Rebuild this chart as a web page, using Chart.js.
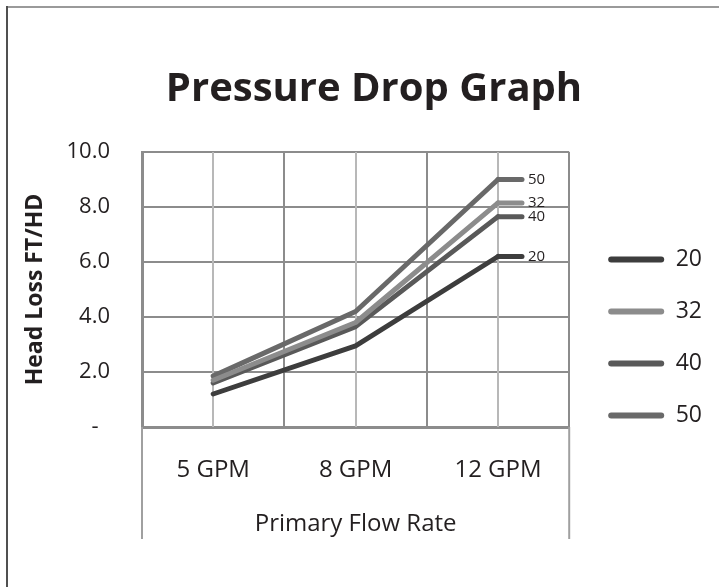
<!DOCTYPE html>
<html>
<head>
<meta charset="utf-8">
<script src="https://cdn.jsdelivr.net/npm/chart.js@4.4.1/dist/chart.umd.min.js"></script>
<style>
  html, body { margin: 0; padding: 0; background: #fff; }
  #wrap { position: relative; width: 719px; height: 587px; }
</style>
</head>
<body>
<div id="wrap"><canvas id="myChart"></canvas></div>
<script>
// categories (x axis) and series
const flowRates = ['5 GPM', '8 GPM', '12 GPM'];
const seriesNames = ['20', '32', '40', '50'];
const loss20 = [1.2, 2.95, 6.2];
const loss32 = [1.7, 3.8, 8.15];
const loss40 = [1.6, 3.65, 7.65];
const loss50 = [1.85, 4.2, 9.0];
const yTicks = [0, 2, 4, 6, 8, 10];

const colors = ['#3d3d3d', '#8c8c8c', '#595959', '#696969'];
const seriesValues = [loss20, loss32, loss40, loss50];

Chart.defaults.font.family = "'Open Sans', sans-serif";
Chart.defaults.color = '#231f20';

// extra drawing: light centre grid lines, axis box below the plot, frame, end labels
const extras = {
    id: 'extras',
    afterLayout(chart) {
        // legend sits lower and a bit right, title is off-centre like the original
        const lg = chart.legend;
        lg.top += 44; lg.bottom += 44;
        lg.left += 10; lg.right += 10;
        const t = chart.titleBlock;
        t.left += 23; t.right += 23;
    },
    beforeDatasetsDraw(chart) {
        const {ctx, chartArea: a, scales: {x}} = chart;
        ctx.save();
        ctx.strokeStyle = '#b8b8b8';
        ctx.lineWidth = 2;
        flowRates.forEach((c, i) => {
            const px = Math.round(x.getPixelForValue(i));
            ctx.beginPath();
            ctx.moveTo(px, a.top);
            ctx.lineTo(px, a.bottom);
            ctx.stroke();
        });
        // category box lines under the axis
        ctx.strokeStyle = '#a0a0a0';
        [a.left, a.right].forEach(px => {
            ctx.beginPath();
            ctx.moveTo(px, a.bottom);
            ctx.lineTo(px, a.bottom + 112);
            ctx.stroke();
        });
        ctx.restore();
    },
    afterDatasetsDraw(chart) {
        const {ctx} = chart;
        ctx.save();
        chart.data.datasets.forEach((ds, i) => {
            const meta = chart.getDatasetMeta(i);
            const pt = meta.data[meta.data.length - 1];
            ctx.strokeStyle = ds.borderColor;
            ctx.lineWidth = 5;
            ctx.lineCap = 'round';
            ctx.beginPath();
            ctx.moveTo(pt.x, pt.y);
            ctx.lineTo(pt.x + 24, pt.y);
            ctx.stroke();
            ctx.fillStyle = '#231f20';
            ctx.font = "15px 'Open Sans', sans-serif";
            ctx.textBaseline = 'middle';
            ctx.fillText(ds.label, pt.x + 30, pt.y);
        });
        ctx.restore();
    },
    afterDraw(chart) {
        const {ctx, width, height} = chart;
        ctx.save();
        ctx.lineWidth = 2;
        ctx.strokeStyle = '#9a9a9a';
        ctx.beginPath();
        ctx.moveTo(6, 7);
        ctx.lineTo(width, 7);
        ctx.stroke();
        ctx.strokeStyle = '#505050';
        ctx.beginPath();
        ctx.moveTo(7, 6);
        ctx.lineTo(7, height);
        ctx.stroke();
        ctx.restore();
    }
};

const ctx = document.getElementById('myChart').getContext('2d');
window.myChart = new Chart(ctx, {
    type: 'line',
    data: {
        labels: flowRates,
        datasets: seriesNames.map((name, i) => ({
            label: name,
            data: seriesValues[i],
            borderColor: colors[i],
            backgroundColor: colors[i],
            borderWidth: 5,
            borderCapStyle: 'round',
            borderJoinStyle: 'round',
            pointRadius: 0,
            tension: 0,
            fill: false
        }))
    },
    options: {
        responsive: true,
        maintainAspectRatio: false,
        animation: false,
        layout: { padding: { left: 0, top: 0, right: 17, bottom: 0 } },
        plugins: {
            title: {
                display: true,
                text: 'Pressure Drop Graph',
                font: { size: 40, weight: 'bold' },
                color: '#231f20',
                padding: { top: 66, bottom: 38 }
            },
            legend: {
                position: 'right',
                align: 'center',
                labels: {
                    boxWidth: 56,
                    boxHeight: 6,
                    useBorderRadius: true,
                    borderRadius: 3,
                    padding: 29,
                    font: { size: 23 },
                    color: '#231f20',
                    generateLabels: chart => Chart.defaults.plugins.legend.labels.generateLabels(chart)
                        .map(l => Object.assign(l, { lineWidth: 0 }))
                }
            },
            tooltip: { enabled: false }
        },
        scales: {
            x: {
                type: 'category',
                offset: true,
                grid: { offset: true, color: '#8c8c8c', lineWidth: 2, drawTicks: false },
                border: { color: '#8c8c8c', width: 3 },
                ticks: { font: { size: 24 }, color: '#231f20', padding: 29 },
                title: {
                    display: true,
                    text: 'Primary Flow Rate',
                    font: { size: 24 },
                    color: '#231f20',
                    padding: { top: 0, bottom: 48 }
                },
                afterFit: scale => { scale.height = 160; }
            },
            y: {
                min: 0,
                max: 10,
                afterBuildTicks: scale => { scale.ticks = yTicks.map(v => ({ value: v })); },
                grid: { color: '#8c8c8c', lineWidth: 2, drawTicks: false },
                border: { color: '#8c8c8c', width: 3 },
                ticks: {
                    font: { size: 22 },
                    color: '#231f20',
                    padding: 32,
                    callback: v => v === 0 ? '-  ' : v.toFixed(1)
                },
                title: {
                    display: true,
                    text: 'Head Loss FT/HD',
                    font: { size: 23, weight: 'bold' },
                    color: '#231f20',
                    padding: { top: 22, bottom: 0 }
                },
                afterFit: scale => { scale.width = 142; }
            }
        }
    },
    plugins: [extras]
});
</script>
</body>
</html>
